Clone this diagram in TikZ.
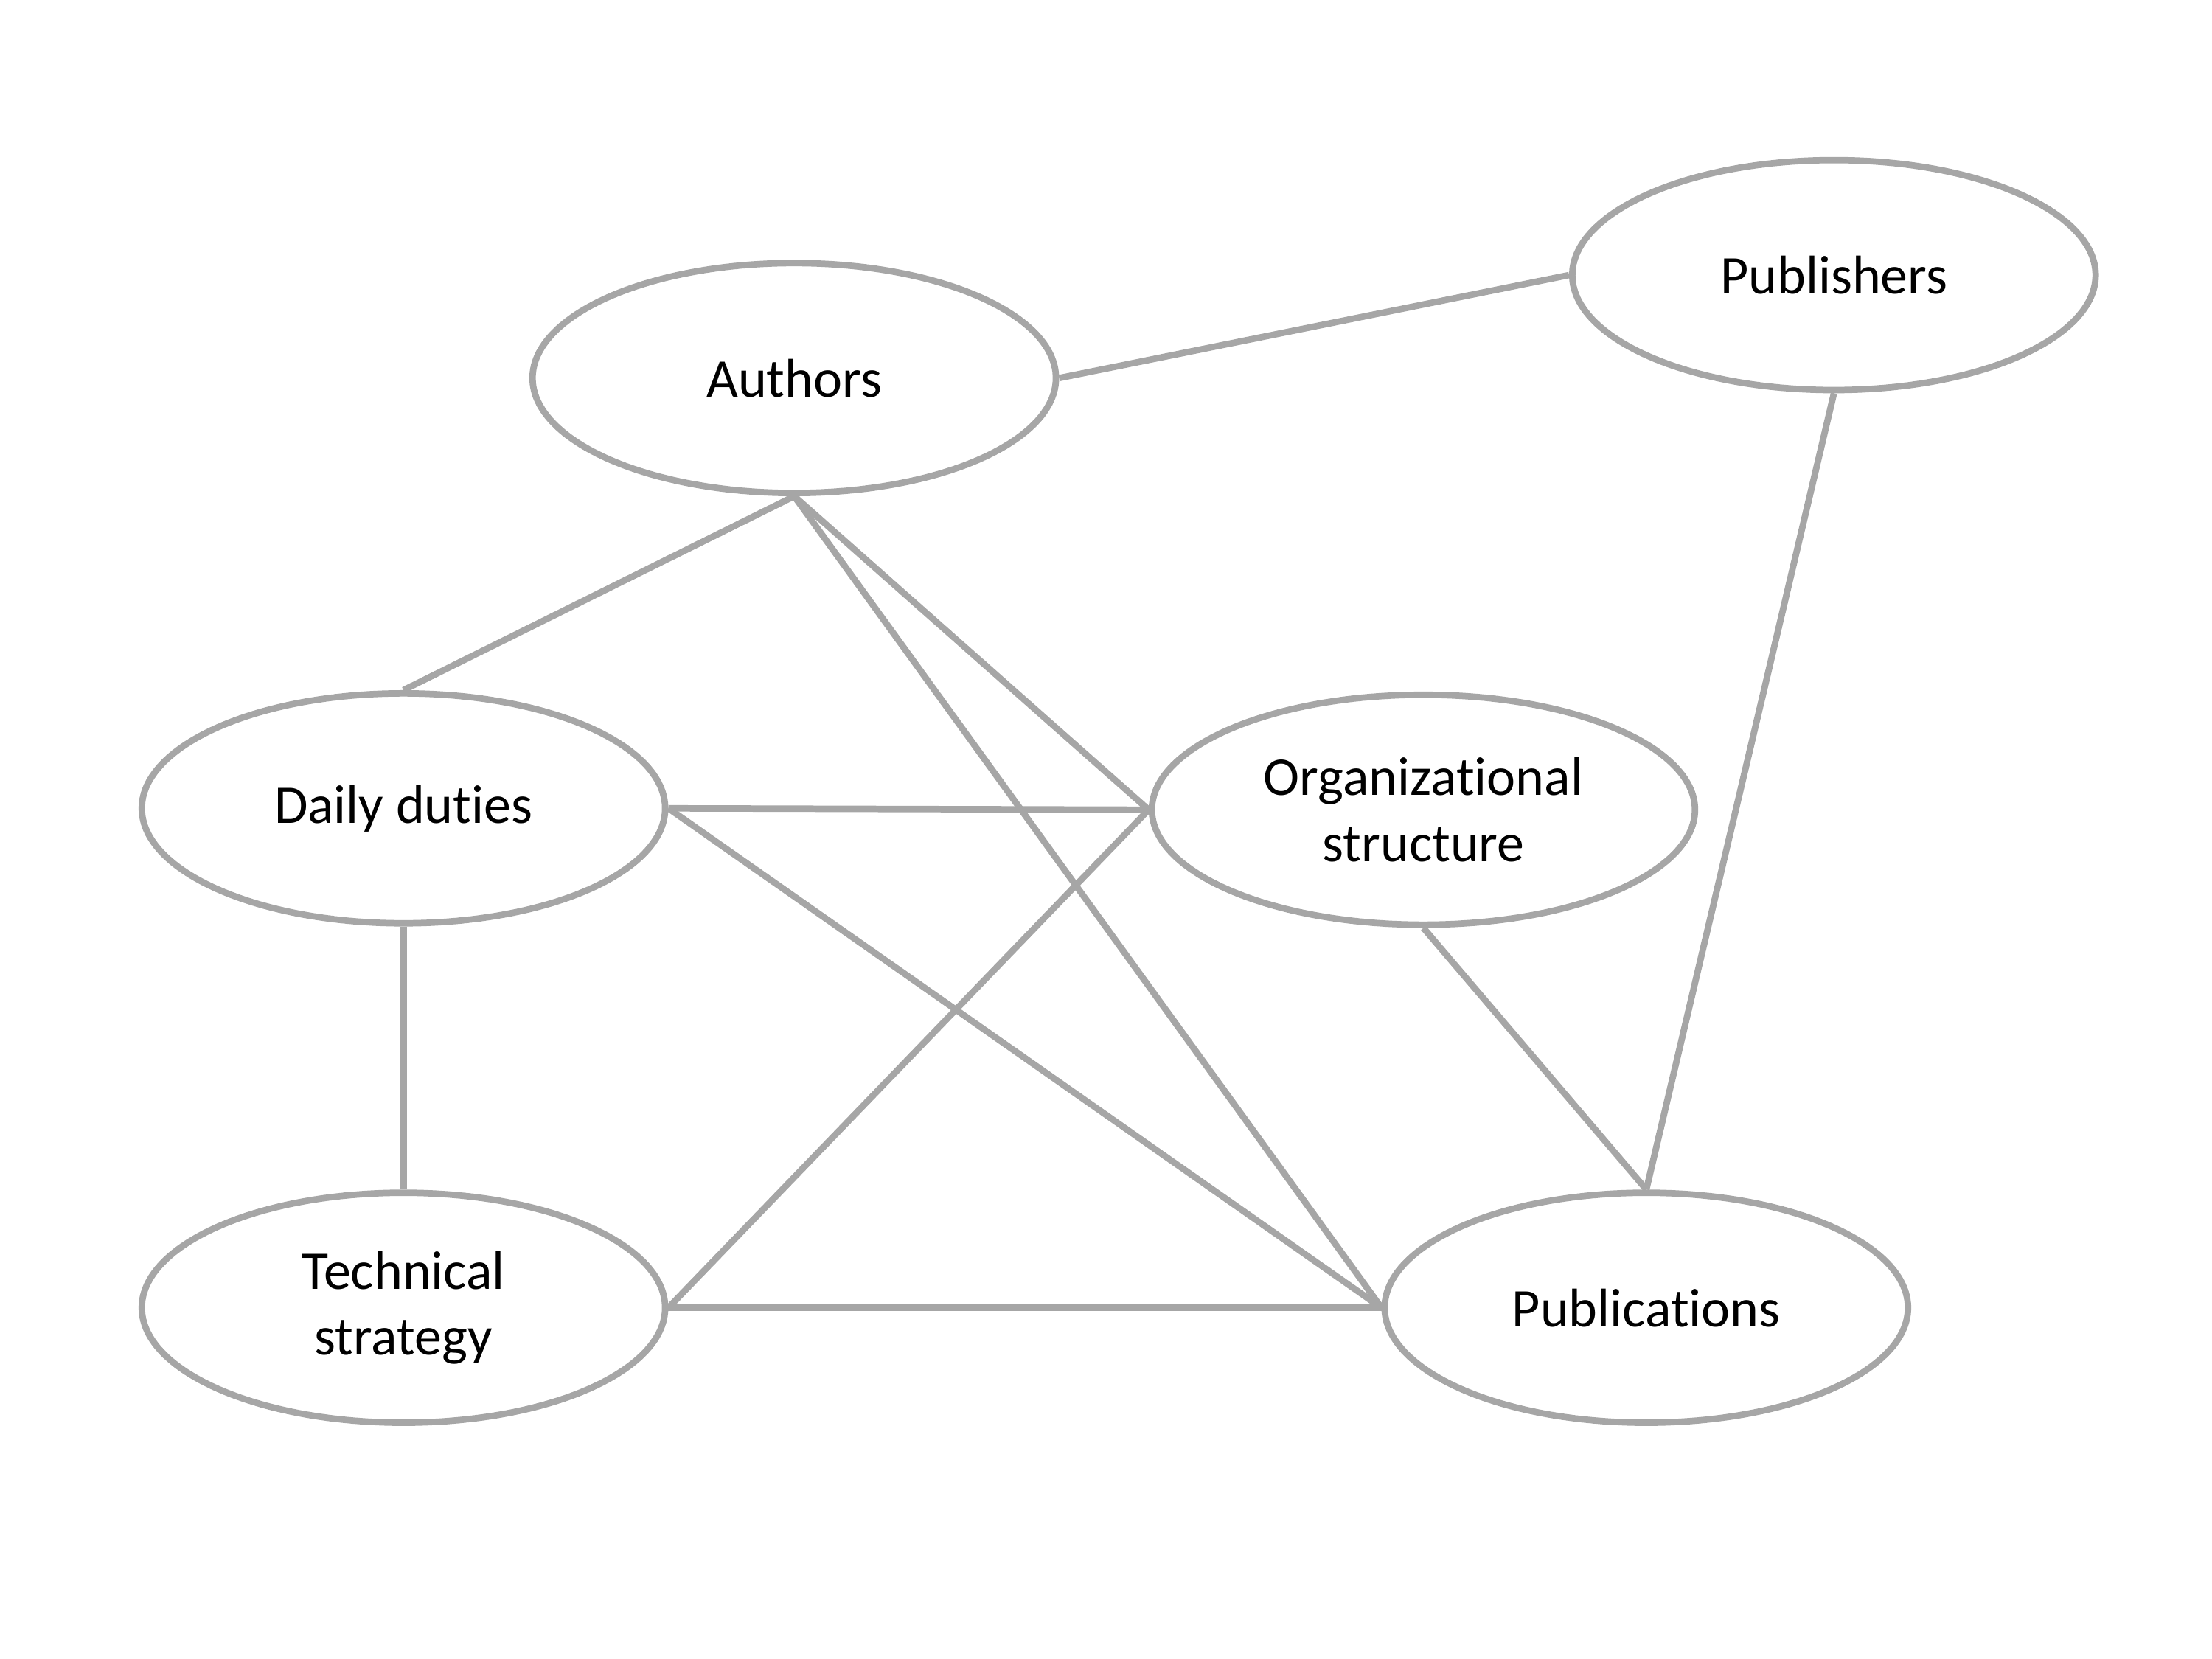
\documentclass[tikz,border=0pt]{standalone}
\usepackage{fontspec}
\setmainfont[Ligatures={NoCommon}]{Carlito}
\usepackage{tikz}
\usetikzlibrary{shapes.geometric}
\definecolor{linegray}{HTML}{A6A6A6}

\begin{document}
\begin{tikzpicture}[line width=1.3pt,
    topic/.style={ellipse,draw=linegray,fill=white,inner sep=0pt,align=center,
        minimum width=3.71cm,minimum height=1.63cm,
        font=\fontsize{11}{13.3}\selectfont},
    link/.style={draw=linegray}]
    \useasboundingbox (0,0) rectangle (15.68,-11.76);

    \node[topic] (authors) at (5.63,-2.68) {Authors};
    \node[topic] (publishers) at (13.00,-1.95) {Publishers};
    \node[topic] (daily) at (2.86,-5.73) {Daily duties};
    \node[topic,minimum width=3.85cm] (org) at (10.09,-5.74) {Organizational\\structure};
    \node[topic] (tech) at (2.86,-9.27) {Technical\\strategy};
    \node[topic] (pubs) at (11.67,-9.27) {Publications};

    \draw[link] (authors.east) -- (publishers.west);
    \draw[link] (authors.south) -- (daily.north);
    \draw[link] (authors.south) -- (org.west);
    \draw[link] (authors.south) -- (pubs.west);
    \draw[link] (daily.east) -- (org.west);
    \draw[link] (daily.east) -- (pubs.west);
    \draw[link] (daily.south) -- (tech.north);
    \draw[link] (tech.east) -- (org.west);
    \draw[link] (tech.east) -- (pubs.west);
    \draw[link] (org.south) -- (pubs.north);
    \draw[link] (publishers.south) -- (pubs.north);
\end{tikzpicture}
\end{document}
